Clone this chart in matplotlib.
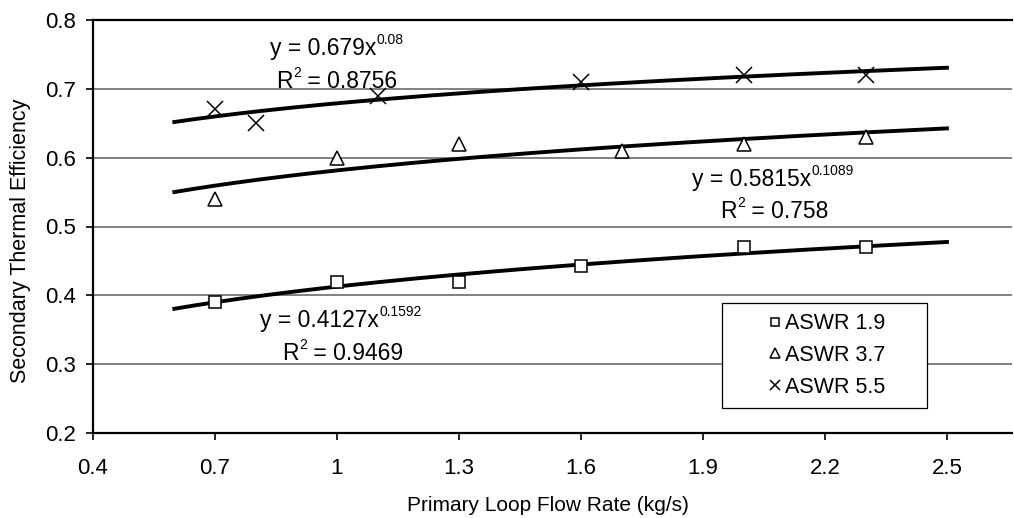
import numpy as np
import matplotlib
matplotlib.use("Agg")
import matplotlib.pyplot as plt
from matplotlib.patches import Rectangle

plt.rcParams["font.family"] = ["Liberation Sans", "DejaVu Sans"]

# ASWR 1.9 (squares)
x_19 = [0.7, 1.0, 1.3, 1.6, 2.0, 2.3]
y_19 = [0.39, 0.42, 0.42, 0.443, 0.47, 0.47]
# ASWR 3.7 (triangles)
x_37 = [0.7, 1.0, 1.3, 1.7, 2.0, 2.3]
y_37 = [0.54, 0.60, 0.62, 0.61, 0.62, 0.63]
# ASWR 5.5 (crosses)
x_55 = [0.7, 0.8, 1.1, 1.6, 2.0, 2.3]
y_55 = [0.67, 0.65, 0.69, 0.71, 0.72, 0.72]

# power trend lines  y = a * x^b
fit_a = [0.4127, 0.5815, 0.679]
fit_b = [0.1592, 0.1089, 0.08]
fit_r2 = ["0.9469", "0.758", "0.8756"]
fit_range = (0.6, 2.5)

x_ticks = [0.4, 0.7, 1.0, 1.3, 1.6, 1.9, 2.2, 2.5]
x_tick_labels = ["0.4", "0.7", "1", "1.3", "1.6", "1.9", "2.2", "2.5"]
y_ticks = [0.2, 0.3, 0.4, 0.5, 0.6, 0.7, 0.8]

FS = 16.5   # equation font
SFS = 10    # superscript font
RISE = 9.6  # superscript lift (points)

fig = plt.figure(figsize=(10.14, 5.18), dpi=100)
ax = fig.add_axes([93 / 1014, 85 / 518, (1012 - 93) / 1014, (433 - 20) / 518])


def sup_text(x, y, base, sup, rest=""):
    # base text + small raised superscript + optional trailing text
    t = ax.text(x, y, base, fontsize=FS, ha="left", va="baseline", zorder=5)
    s = ax.annotate(sup, xy=(1, 0), xycoords=t, xytext=(0.3, RISE),
                    textcoords="offset points", fontsize=SFS,
                    ha="left", va="bottom", zorder=5)
    if rest:
        ax.annotate(rest, xy=(1, 0), xycoords=(s, t), xytext=(0, 0),
                    textcoords="offset points", fontsize=FS,
                    ha="left", va="bottom", zorder=5)


# Trend lines
xf = np.linspace(fit_range[0], fit_range[1], 200)
for a, b in zip(fit_a, fit_b):
    ax.plot(xf, a * xf ** b, color="black", lw=2.8, zorder=3)

# Data points
ax.plot(x_19, y_19, ls="none", marker="s", ms=9, mfc="white", mec="black",
        mew=1.1, label="ASWR 1.9", zorder=4)
ax.plot(x_37, y_37, ls="none", marker="^", ms=10.5, mfc="white", mec="black",
        mew=1.1, label="ASWR 3.7", zorder=4)
ax.plot(x_55, y_55, ls="none", marker="x", ms=11, color="black",
        mew=1.1, label="ASWR 5.5", zorder=4)

# Equation labels: (x of eq line, baseline y, x of R2 line, baseline y)
eq_pos = [(0.811, 0.354, 0.865, 0.306),
          (1.873, 0.559, 1.942, 0.512),
          (0.835, 0.749, 0.850, 0.701)]
for (ex, ey, rx, ry), a, b, r2 in zip(eq_pos, fit_a, fit_b, fit_r2):
    sup_text(ex, ey, "y = %gx" % a, "%g" % b)
    sup_text(rx, ry, "R", "2", " = " + r2)

ax.set_xlim(0.4, 2.66)
ax.set_ylim(0.2, 0.8)
ax.set_xticks(x_ticks)
ax.set_xticklabels(x_tick_labels)
ax.set_yticks(y_ticks)
ax.set_yticklabels(["%.1f" % v for v in y_ticks])
ax.tick_params(labelsize=16, length=5, width=1.2, direction="out")
ax.tick_params(axis="x", pad=13)
ax.tick_params(axis="y", pad=7)

ax.grid(axis="y", color="#808080", lw=1.4)
ax.set_axisbelow(True)
for s in ["left", "bottom", "top"]:
    ax.spines[s].set_color("black")
    ax.spines[s].set_linewidth(1.6)
ax.spines["right"].set_visible(False)

ax.set_xlabel("Primary Loop Flow Rate (kg/s)", fontsize=15)
ax.set_ylabel("Secondary Thermal Efficiency", fontsize=15.5)
ax.xaxis.set_label_coords(0.495, -0.152)
ax.yaxis.set_label_coords(-0.068, 0.465)

# legend: frame drawn separately so the padding can be wider than tall
box_x0, box_x1 = (722 - 93) / 919, (927 - 93) / 919
box_y0, box_y1 = (433 - 408) / 413, (433 - 303) / 413
ax.add_patch(Rectangle((box_x0, box_y0), box_x1 - box_x0, box_y1 - box_y0,
                       transform=ax.transAxes, facecolor="white",
                       edgecolor="black", lw=0.9, zorder=6))
leg = ax.legend(loc="center", bbox_to_anchor=((box_x0 + box_x1) / 2 + 0.003,
                                              (box_y0 + box_y1) / 2),
                fontsize=15.5, frameon=False, handlelength=0.6,
                handletextpad=0.15, borderpad=0, labelspacing=0.5,
                markerscale=0.65)
leg.set_zorder(7)

fig.savefig("out.png", dpi=100)
